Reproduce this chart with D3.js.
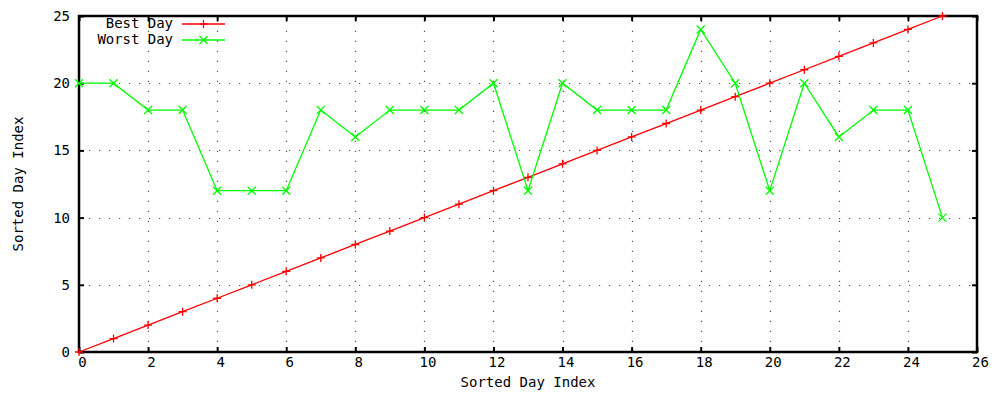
<!DOCTYPE html>
<html>
<head>
<meta charset="utf-8">
<script src="https://cdn.jsdelivr.net/npm/d3@7"></script>
<style>
  html, body { margin: 0; padding: 0; background: #fff; }
  svg { display: block; }
  text { font-family: "DejaVu Sans Mono", "Liberation Mono", monospace; font-size: 14px; fill: #000; }
</style>
</head>
<body>
<svg id="chart" width="992" height="394"></svg>
<script>
// Day positions along the x axis
const dayIndex = d3.range(0, 26);
// Sorted index of the best day for each position
const bestDay = [0, 1, 2, 3, 4, 5, 6, 7, 8, 9, 10, 11, 12, 13, 14, 15, 16, 17, 18, 19, 20, 21, 22, 23, 24, 25];
// Sorted index of the worst day for each position
const worstDay = [20, 20, 18, 18, 12, 12, 12, 18, 16, 18, 18, 18, 20, 12, 20, 18, 18, 18, 24, 20, 12, 20, 16, 18, 18, 10];
const xTicks = d3.range(0, 27, 2);
const yTicks = [0, 5, 10, 15, 20, 25];
const seriesNames = ["Best Day", "Worst Day"];
const seriesColors = ["#ff0000", "#00ff00"];

const svg = d3.select("#chart");
const L = 79, R = 977, T = 16, B = 352;
const x = d3.scaleLinear().domain([0, 26]).range([L, R]);
const y = d3.scaleLinear().domain([0, 25]).range([B, T]);

// dotted grid
const grid = svg.append("g").attr("stroke", "#555").attr("stroke-width", 1.2)
  .attr("stroke-dasharray", "1.2,8.8");
grid.selectAll("line.gx").data(xTicks.filter(t => t > 0 && t < 26)).join("line")
  .attr("x1", d => Math.round(x(d)) + 0.5).attr("x2", d => Math.round(x(d)) + 0.5)
  .attr("y1", B).attr("y2", T);
grid.selectAll("line.gy").data(yTicks.filter(t => t > 0 && t < 25)).join("line")
  .attr("x1", L).attr("x2", R)
  .attr("y1", d => Math.round(y(d)) + 0.5).attr("y2", d => Math.round(y(d)) + 0.5);

// axes with inward ticks
const axes = svg.append("g");
const xAxisG = axes.append("g").attr("transform", `translate(0,${B})`)
  .call(d3.axisBottom(x).tickValues(xTicks).tickSize(-5).tickPadding(5).tickFormat(d3.format("d")));
xAxisG.selectAll(".tick text").attr("dx", 3);
axes.append("g").attr("transform", `translate(0,${T})`)
  .call(d3.axisTop(x).tickValues(xTicks).tickSize(-5).tickFormat(""));
axes.append("g").attr("transform", `translate(${L},0)`)
  .call(d3.axisLeft(y).tickValues(yTicks).tickSize(-5).tickPadding(9).tickFormat(d3.format("d")));
axes.append("g").attr("transform", `translate(${R},0)`)
  .call(d3.axisRight(y).tickValues(yTicks).tickSize(-5).tickFormat(""));
axes.selectAll(".domain").remove();
axes.selectAll(".tick line").attr("stroke", "#000").attr("stroke-width", 2);
axes.selectAll(".tick text").attr("font-family", "DejaVu Sans Mono").attr("font-size", 14).attr("fill", "#000");

// frame
svg.append("rect").attr("x", L).attr("y", T).attr("width", R - L).attr("height", B - T)
  .attr("fill", "none").attr("stroke", "#000").attr("stroke-width", 2.5);

// axis titles
svg.append("text").attr("x", (L + R) / 2).attr("y", 387).attr("text-anchor", "middle")
  .text("Sorted Day Index");
svg.append("text").attr("transform", `translate(23,${(T + B) / 2}) rotate(-90)`)
  .attr("text-anchor", "middle").text("Sorted Day Index");

// series
const series = [bestDay, worstDay];
const line = d3.line().x((d, i) => x(dayIndex[i])).y(d => y(d));
const plot = svg.append("g");
function marker(g, kind, cx, cy, color) {
  const s = 4;
  const p = kind === 0
    ? `M${cx - s},${cy}H${cx + s}M${cx},${cy - s}V${cy + s}`
    : `M${cx - s},${cy - s}L${cx + s},${cy + s}M${cx - s},${cy + s}L${cx + s},${cy - s}`;
  g.append("path").attr("d", p).attr("stroke", color).attr("stroke-width", 1.3).attr("fill", "none");
}
series.forEach((vals, k) => {
  plot.append("path").datum(vals).attr("d", line)
    .attr("fill", "none").attr("stroke", seriesColors[k]).attr("stroke-width", 1.3);
  vals.forEach((v, i) => marker(plot, k, x(dayIndex[i]), y(v), seriesColors[k]));
});

// legend: monospaced labels, right-aligned against the sample lines
const lg = svg.append("g");
seriesNames.forEach((name, k) => {
  const ly = 24 + k * 16;
  const w = 8.4 * name.length;
  lg.append("text").attr("x", 173 - w).attr("y", ly + 4)
    .attr("font-size", 11.5).attr("textLength", w).attr("lengthAdjust", "spacing").text(name);
  lg.append("line").attr("x1", 182).attr("x2", 225).attr("y1", ly).attr("y2", ly)
    .attr("stroke", seriesColors[k]).attr("stroke-width", 1.3);
  marker(lg, k, 203.5, ly, seriesColors[k]);
});
</script>
</body>
</html>
